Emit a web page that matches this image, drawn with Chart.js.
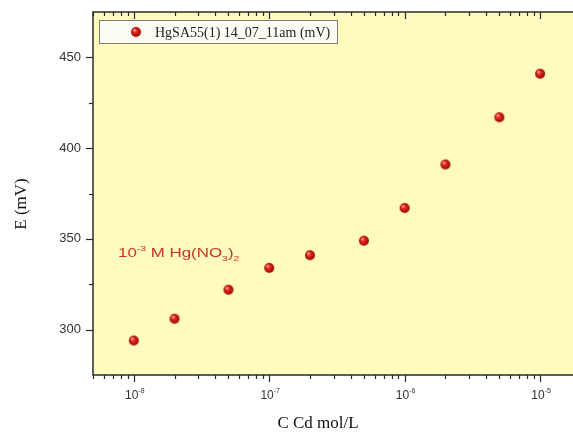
<!DOCTYPE html>
<html>
<head>
<meta charset="utf-8">
<script src="https://cdn.jsdelivr.net/npm/chart.js@4.4.1/dist/chart.umd.min.js"></script>
<style>
  html, body { margin: 0; padding: 0; background: #fff; overflow: hidden; }
</style>
</head>
<body>
<canvas id="chart" width="573" height="434"></canvas>
<script>
// data
const concentrations = [1e-8, 2e-8, 5e-8, 1e-7, 2e-7, 5e-7, 1e-6, 2e-6, 5e-6, 1e-5];
const potentials = [294, 306, 322, 334, 341, 349, 367, 391, 417, 441];
const xDecades = [-8, -7, -6, -5];
const yTickValues = [300, 350, 400, 450];
const yMinorValues = [325, 375, 425];
const seriesLabel = 'HgSA55(1) 14_07_11am (mV)';
const xTitle = 'C Cd mol/L';
const yTitle = 'E (mV)';

const SANS = '"Liberation Sans", Arial, sans-serif';
const SERIF = '"Liberation Serif", "Times New Roman", serif';

// little shaded red ball used as the marker
function makeSphere(r) {
    const c = document.createElement('canvas');
    c.width = c.height = r * 2 + 2;
    const g = c.getContext('2d');
    const cx = r + 1, cy = r + 1;
    const grad = g.createRadialGradient(cx - r * 0.35, cy - r * 0.4, r * 0.1, cx, cy, r);
    grad.addColorStop(0, '#ffa090');
    grad.addColorStop(0.35, '#e8261c');
    grad.addColorStop(1, '#960804');
    g.fillStyle = grad;
    g.beginPath();
    g.arc(cx, cy, r, 0, Math.PI * 2);
    g.fill();
    return c;
}
const sphere = makeSphere(5);

// draws text runs with super/subscripts, returns end x
function drawRich(ctx, parts, x, y) {
    parts.forEach(p => {
        ctx.font = p.font;
        ctx.fillText(p.t, x, y + (p.dy || 0));
        x += ctx.measureText(p.t).width;
    });
    return x;
}
function richWidth(ctx, parts) {
    let w = 0;
    parts.forEach(p => { ctx.font = p.font; w += ctx.measureText(p.t).width; });
    return w;
}

const framePlugin = {
    id: 'frame',
    beforeDatasetsDraw(chart) {
        const { ctx, chartArea: a } = chart;
        ctx.save();
        ctx.fillStyle = '#fffbbd';
        ctx.fillRect(a.left, a.top, a.right - a.left, a.bottom - a.top);
        ctx.restore();
    },
    afterDatasetsDraw(chart) {
        const { ctx, chartArea: a, scales } = chart;
        const xs = scales.x, ys = scales.y;
        ctx.save();
        ctx.strokeStyle = '#2a2a2a';
        ctx.lineWidth = 1.5;

        // axis lines (right side is cut off in the picture)
        ctx.beginPath();
        ctx.moveTo(a.right, a.top); ctx.lineTo(a.left, a.top);
        ctx.lineTo(a.left, a.bottom); ctx.lineTo(a.right, a.bottom);
        ctx.stroke();

        // x ticks, bottom outward and top inward
        ctx.lineWidth = 1.2;
        for (let d = -9; d <= -5; d++) {
            for (let m = 1; m <= 9; m++) {
                const v = m * Math.pow(10, d);
                if (v < xs.min || v > xs.max) continue;
                const px = Math.round(xs.getPixelForValue(v)) + 0.5;
                const len = m === 1 ? 7 : 4;
                ctx.beginPath();
                ctx.moveTo(px, a.bottom); ctx.lineTo(px, a.bottom + len);
                ctx.moveTo(px, a.top); ctx.lineTo(px, a.top + len);
                ctx.stroke();
            }
        }
        // y ticks, outward
        yTickValues.forEach(v => {
            const py = Math.round(ys.getPixelForValue(v)) + 0.5;
            ctx.beginPath(); ctx.moveTo(a.left - 7, py); ctx.lineTo(a.left, py); ctx.stroke();
        });
        yMinorValues.forEach(v => {
            const py = Math.round(ys.getPixelForValue(v)) + 0.5;
            ctx.beginPath(); ctx.moveTo(a.left - 4, py); ctx.lineTo(a.left, py); ctx.stroke();
        });

        // x tick labels 10^n
        ctx.fillStyle = '#333';
        ctx.textBaseline = 'alphabetic';
        ctx.textAlign = 'left';
        xDecades.forEach(d => {
            const px = xs.getPixelForValue(Math.pow(10, d));
            const parts = [
                { t: '10', font: '12px ' + SANS },
                { t: String(d), font: '7px ' + SANS, dy: -6 }
            ];
            const w = richWidth(ctx, parts);
            drawRich(ctx, parts, px - w / 2 + 1, 399);
        });

        // axis titles
        ctx.fillStyle = '#111';
        ctx.font = '17px ' + SERIF;
        ctx.textAlign = 'center';
        ctx.textBaseline = 'middle';
        ctx.fillText(xTitle, 318, 424);
        ctx.save();
        ctx.translate(22, 204);
        ctx.rotate(-Math.PI / 2);
        ctx.fillText(yTitle, 0, 0);
        ctx.restore();

        // annotation (the original lettering is stretched sideways)
        ctx.save();
        ctx.translate(118, 257);
        ctx.scale(1.3, 1);
        ctx.fillStyle = '#cc3324';
        ctx.textAlign = 'left';
        ctx.textBaseline = 'alphabetic';
        drawRich(ctx, [
            { t: '10', font: '13px ' + SANS },
            { t: '-3', font: '8px ' + SANS, dy: -6 },
            { t: ' M Hg(NO', font: '13px ' + SANS },
            { t: '3', font: '8px ' + SANS, dy: 4 },
            { t: ')', font: '13px ' + SANS },
            { t: '2', font: '8px ' + SANS, dy: 4 }
        ], 0, 0);
        ctx.restore();

        // legend box
        ctx.fillStyle = '#fdfdf6';
        ctx.strokeStyle = '#7a7a7a';
        ctx.lineWidth = 1;
        ctx.fillRect(99.5, 20.5, 238, 23);
        ctx.strokeRect(99.5, 20.5, 238, 23);
        ctx.drawImage(sphere, 136 - 6, 32 - 6);
        ctx.fillStyle = '#222';
        ctx.font = '14px ' + SERIF;
        ctx.textBaseline = 'middle';
        ctx.textAlign = 'left';
        ctx.fillText(seriesLabel, 155, 33);

        ctx.restore();
    }
};

new Chart(document.getElementById('chart'), {
    type: 'scatter',
    data: {
        datasets: [{
            label: seriesLabel,
            data: concentrations.map((c, i) => ({ x: c, y: potentials[i] })),
            pointStyle: sphere,
            pointRadius: 5,
            showLine: false
        }]
    },
    options: {
        responsive: false,
        animation: false,
        layout: { autoPadding: false, padding: { top: 12, left: 0, right: 0, bottom: 0 } },
        plugins: {
            legend: { display: false },
            tooltip: { enabled: false }
        },
        scales: {
            x: {
                type: 'logarithmic',
                min: 5e-9,
                max: 1.75e-5,
                grid: { display: false },
                border: { display: false },
                ticks: { display: false },
                afterFit: s => { s.height = 59; }
            },
            y: {
                min: 275,
                max: 475,
                grid: { display: false },
                border: { display: false },
                afterBuildTicks: s => { s.ticks = yTickValues.map(v => ({ value: v })); },
                ticks: {
                    color: '#333',
                    padding: 4,
                    font: { family: SANS, size: 13 }
                },
                afterFit: s => { s.width = 93; }
            }
        }
    },
    plugins: [framePlugin]
});
</script>
</body>
</html>
